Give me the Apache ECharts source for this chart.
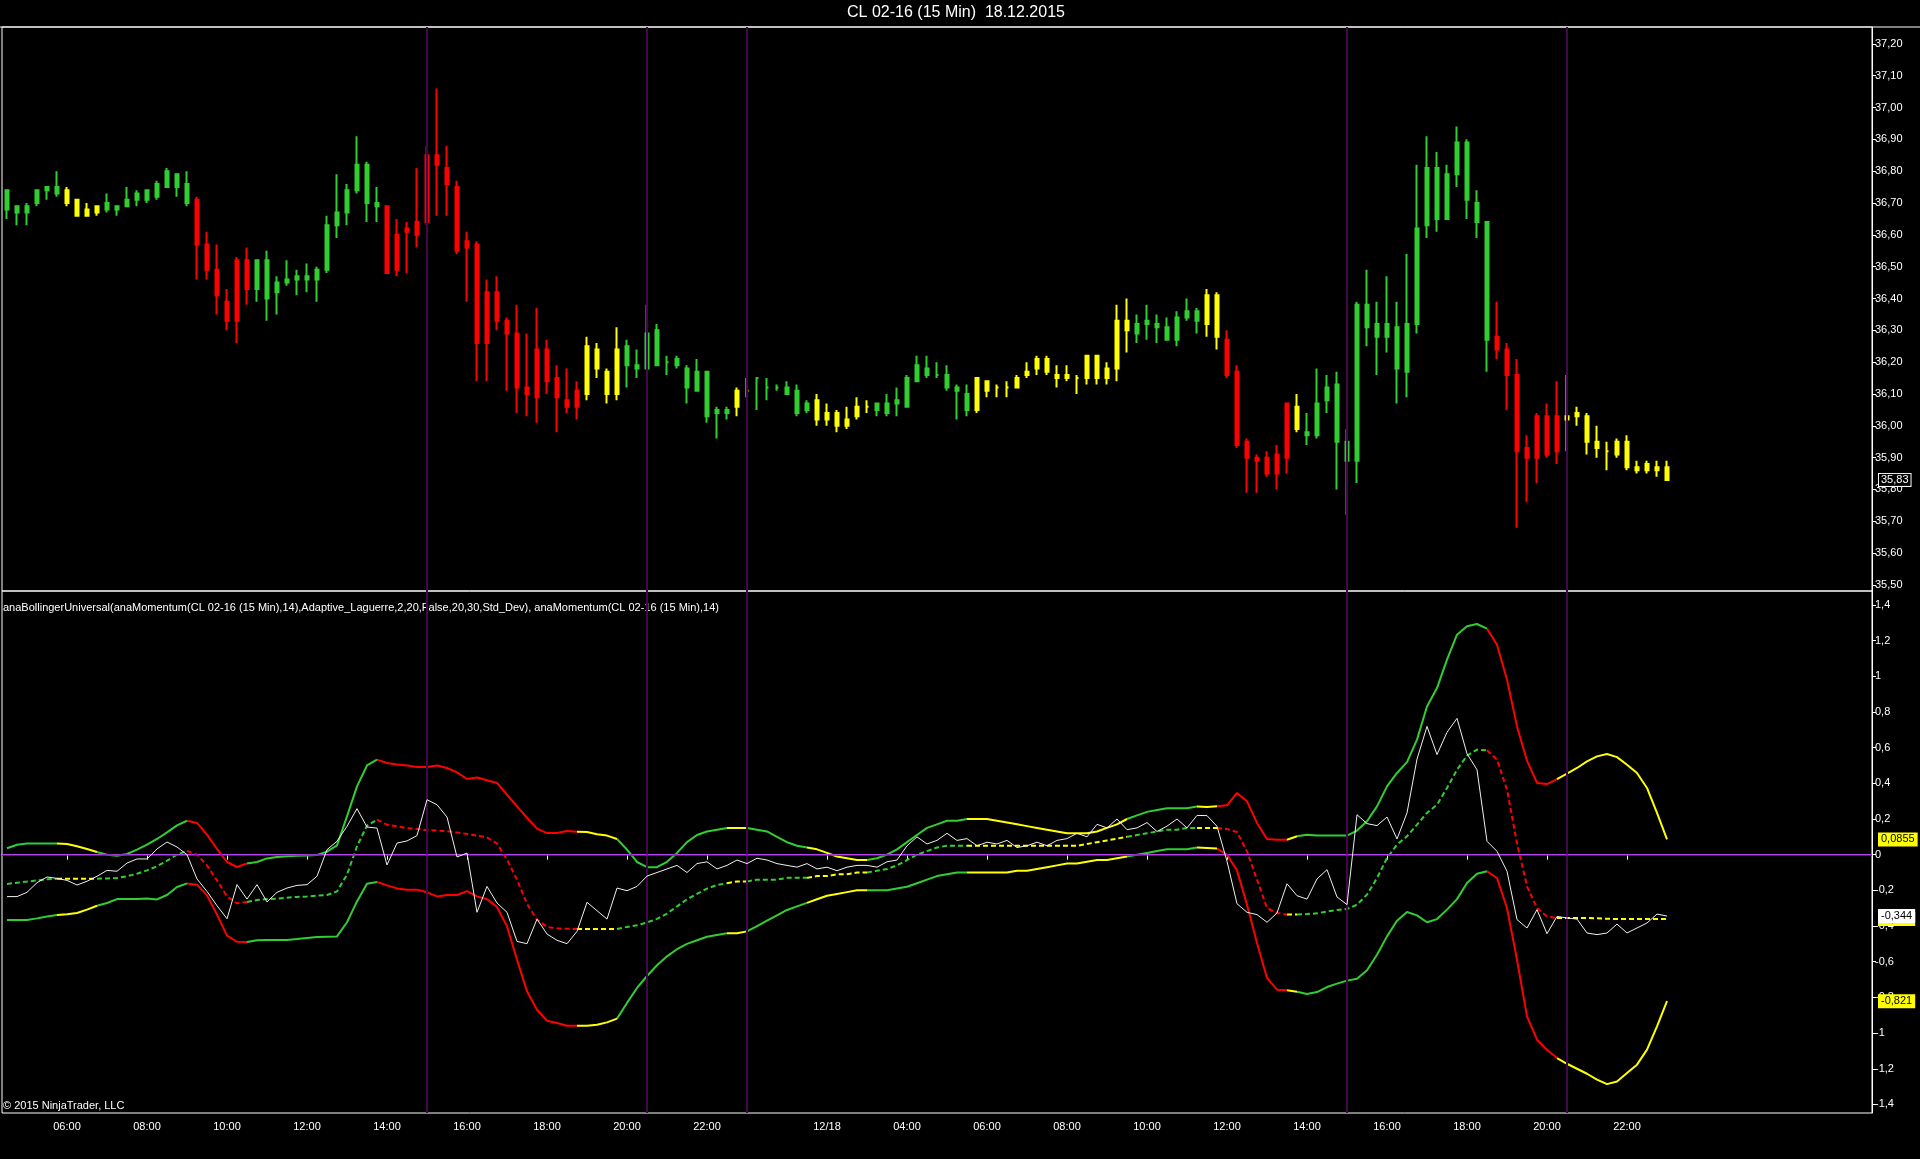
<!DOCTYPE html>
<html><head><meta charset="utf-8">
<script src="https://cdn.jsdelivr.net/npm/echarts@6/dist/echarts.min.js"></script>
<style>html,body{margin:0;padding:0;background:#000;overflow:hidden}#c{width:1920px;height:1159px}</style>
</head><body><div id="c"></div>
<script>
// ---------------- DATA ----------------
const titleText = 'CL 02-16 (15 Min)  18.12.2015';
const indicatorText = 'anaBollingerUniversal(anaMomentum(CL 02-16 (15 Min),14),Adaptive_Laguerre,2,20,False,20,30,Std_Dev), anaMomentum(CL 02-16 (15 Min),14)';
const copyrightText = '\u00A9 2015 NinjaTrader, LLC';

// trading sessions (day, first bar, last bar), 15-minute bars
const sessions = [['17', '04:30', '23:00'], ['18', '00:15', '23:00']];
const xTickLabels = {
  '17 06:00': '06:00', '17 08:00': '08:00', '17 10:00': '10:00', '17 12:00': '12:00', '17 14:00': '14:00',
  '17 16:00': '16:00', '17 18:00': '18:00', '17 20:00': '20:00', '17 22:00': '22:00',
  '18 02:00': '12/18', '18 04:00': '04:00', '18 06:00': '06:00', '18 08:00': '08:00', '18 10:00': '10:00',
  '18 12:00': '12:00', '18 14:00': '14:00', '18 16:00': '16:00', '18 18:00': '18:00', '18 20:00': '20:00', '18 22:00': '22:00'
};
const eventTimes = ['17 15:00', '17 20:30', '17 23:00', '18 15:00', '18 20:30'];

// trend state runs (G = up, R = down, Y = neutral)
const stateRuns = [['G',6],['Y',4],['G',9],['R',6],['G',13],['R',20],['Y',4],['G',11],['Y',2],['G',6],['Y',6],['G',10],['Y',16],['G',7],['Y',2],['R',7],['Y',1],['G',19],['R',7],['Y',11]];

const priceHigh = [
36.74,36.69,36.70,36.74,36.75,36.80,36.75,36.71,36.70,36.69,
36.73,36.69,36.75,36.74,36.74,36.77,36.81,36.79,36.80,36.72,
36.61,36.57,36.43,36.53,36.56,36.52,36.55,36.47,36.52,36.49,
36.51,36.50,36.66,36.79,36.76,36.91,36.83,36.75,36.69,36.65,
36.64,36.81,36.88,37.06,36.88,36.77,36.61,36.58,36.46,36.47,
36.34,36.38,36.29,36.37,36.27,36.19,36.18,36.14,36.28,36.26,
36.18,36.31,36.27,36.24,36.38,36.32,36.22,36.22,36.19,36.21,
36.17,36.06,36.06,36.12,36.15,36.15,36.15,36.13,36.14,36.13,
36.08,36.10,36.07,36.05,36.06,36.09,36.08,36.07,36.10,36.12,
36.16,36.22,36.22,36.20,36.19,36.13,36.13,36.15,36.14,36.13,
36.14,36.16,36.20,36.22,36.22,36.19,36.19,36.16,36.22,36.22,
36.20,36.38,36.40,36.35,36.38,36.35,36.34,36.36,36.40,36.37,
36.43,36.42,36.30,36.19,35.96,35.91,35.92,35.94,36.07,36.10,
36.04,36.18,36.16,36.17,35.99,36.39,36.49,36.39,36.47,36.39,
36.54,36.82,36.91,36.86,36.82,36.94,36.90,36.74,36.64,36.39,
36.26,36.21,35.97,36.04,36.07,36.14,36.16,36.06,36.04,36.00,
35.95,35.96,35.97,35.89,35.89,35.89,35.89];
const bodyTop = [
36.74,36.69,36.69,36.74,36.75,36.75,36.74,36.71,36.68,36.69,
36.70,36.69,36.71,36.73,36.74,36.76,36.80,36.79,36.76,36.71,
36.57,36.49,36.39,36.52,36.52,36.52,36.52,36.45,36.46,36.47,
36.47,36.49,36.63,36.67,36.74,36.82,36.82,36.70,36.69,36.60,
36.62,36.64,36.85,36.85,36.81,36.75,36.58,36.57,36.42,36.42,
36.33,36.29,36.12,36.24,36.24,36.15,36.08,36.11,36.25,36.24,
36.17,36.24,36.25,36.19,36.29,36.30,36.20,36.21,36.18,36.17,
36.17,36.05,36.05,36.11,36.11,36.15,36.12,36.12,36.12,36.11,
36.07,36.08,36.04,36.04,36.02,36.06,36.06,36.07,36.07,36.08,
36.15,36.19,36.18,36.16,36.16,36.12,36.10,36.15,36.14,36.12,
36.12,36.15,36.17,36.21,36.21,36.16,36.16,36.15,36.22,36.22,
36.18,36.33,36.33,36.32,36.33,36.32,36.31,36.34,36.36,36.36,
36.41,36.41,36.27,36.17,35.95,35.90,35.90,35.91,36.07,36.06,
35.98,36.07,36.12,36.13,35.95,36.38,36.38,36.32,36.32,36.31,
36.32,36.62,36.81,36.81,36.79,36.89,36.89,36.70,36.64,36.28,
36.24,36.16,35.93,36.03,36.03,36.03,36.03,36.04,36.03,35.95,
35.92,35.95,35.95,35.87,35.88,35.87,35.87];
const bodyBottom = [
36.68,36.67,36.67,36.70,36.74,36.73,36.70,36.66,36.66,36.67,
36.68,36.68,36.69,36.71,36.71,36.72,36.75,36.75,36.70,36.57,
36.49,36.41,36.33,36.33,36.43,36.43,36.40,36.42,36.45,36.46,
36.46,36.46,36.49,36.63,36.67,36.74,36.70,36.69,36.48,36.49,
36.61,36.60,36.64,36.82,36.76,36.55,36.56,36.26,36.26,36.33,
36.29,36.12,36.10,36.09,36.14,36.09,36.06,36.06,36.10,36.18,
36.10,36.10,36.19,36.18,36.18,36.19,36.20,36.19,36.12,36.11,
36.03,36.04,36.04,36.06,36.11,36.15,36.12,36.12,36.10,36.04,
36.05,36.02,36.02,36.00,36.00,36.03,36.06,36.05,36.04,36.07,
36.06,36.14,36.16,36.16,36.12,36.11,36.05,36.05,36.11,36.12,
36.12,36.12,36.16,36.18,36.17,36.15,36.15,36.15,36.15,36.15,
36.15,36.18,36.30,36.29,36.32,36.31,36.27,36.27,36.34,36.33,
36.32,36.28,36.16,35.94,35.90,35.89,35.85,35.85,35.90,35.99,
35.97,35.97,36.08,35.95,35.89,35.89,36.31,36.28,36.28,36.18,
36.17,36.32,36.63,36.65,36.65,36.79,36.71,36.64,36.27,36.24,
36.16,35.92,35.90,35.90,35.91,35.92,36.02,36.03,35.95,35.93,
35.92,35.91,35.87,35.86,35.86,35.86,35.83];
const priceLow = [
36.65,36.63,36.63,36.69,36.71,36.72,36.69,36.66,36.66,36.66,
36.67,36.66,36.69,36.69,36.70,36.71,36.75,36.72,36.69,36.46,
36.46,36.35,36.30,36.26,36.38,36.39,36.33,36.35,36.44,36.41,
36.42,36.39,36.48,36.59,36.63,36.73,36.64,36.64,36.48,36.47,
36.48,36.56,36.63,36.66,36.66,36.54,36.39,36.14,36.14,36.30,
36.11,36.04,36.03,36.01,36.10,35.98,36.04,36.02,36.08,36.15,
36.07,36.08,36.12,36.15,36.18,36.19,36.16,36.18,36.07,36.11,
36.01,35.96,36.02,36.03,36.09,36.05,36.08,36.11,36.10,36.03,
36.04,36.00,36.00,35.98,35.99,36.02,36.04,36.03,36.03,36.03,
36.06,36.14,36.15,36.15,36.11,36.02,36.03,36.04,36.09,36.09,
36.09,36.12,36.15,36.16,36.16,36.12,36.14,36.10,36.13,36.13,
36.13,36.14,36.23,36.26,36.27,36.26,36.27,36.25,36.33,36.29,
36.28,36.24,36.15,35.93,35.79,35.79,35.84,35.80,35.85,35.98,
35.94,35.96,36.04,35.80,35.72,35.82,36.25,36.16,36.23,36.07,
36.09,36.29,36.59,36.61,36.65,36.75,36.65,36.59,36.17,36.21,
36.05,35.68,35.76,35.82,35.90,35.88,35.92,36.00,35.91,35.90,
35.86,35.90,35.86,35.85,35.85,35.84,35.83];

const bandUpper = [
0.036,0.056,0.062,0.062,0.062,0.062,0.060,0.047,0.032,0.015,
0.000,-0.006,0.004,0.028,0.056,0.088,0.125,0.164,0.190,0.178,
0.112,0.032,-0.041,-0.069,-0.049,-0.041,-0.021,-0.013,-0.009,-0.006,
-0.004,-0.002,0.017,0.052,0.215,0.383,0.500,0.533,0.514,0.506,
0.500,0.491,0.491,0.500,0.486,0.461,0.424,0.433,0.417,0.402,
0.336,0.271,0.207,0.146,0.121,0.121,0.133,0.129,0.127,0.114,
0.107,0.088,0.028,-0.041,-0.07,-0.07,-0.04,0.01,0.07,0.11,
0.13,0.14,0.15,0.15,0.15,0.14,0.13,0.10,0.07,0.05,
0.04,0.03,0.01,-0.01,-0.02,-0.03,-0.03,-0.02,0.00,0.03,
0.07,0.11,0.15,0.17,0.19,0.19,0.20,0.20,0.20,0.19,
0.18,0.17,0.16,0.15,0.14,0.13,0.12,0.12,0.12,0.13,
0.15,0.17,0.20,0.22,0.24,0.25,0.26,0.26,0.26,0.27,
0.267,0.271,0.277,0.346,0.299,0.178,0.088,0.084,0.084,0.103,
0.112,0.107,0.107,0.107,0.107,0.135,0.187,0.271,0.383,0.458,
0.519,0.645,0.831,0.934,1.093,1.233,1.280,1.293,1.267,1.177,
0.981,0.719,0.527,0.402,0.396,0.424,0.454,0.486,0.523,0.551,
0.564,0.547,0.504,0.458,0.374,0.234,0.0855];
const bandMiddle = [
-0.164,-0.157,-0.151,-0.144,-0.138,-0.135,-0.135,-0.135,-0.135,-0.135,
-0.133,-0.131,-0.121,-0.107,-0.088,-0.065,-0.034,0.000,0.021,0.000,
-0.060,-0.144,-0.234,-0.273,-0.265,-0.254,-0.249,-0.247,-0.241,-0.237,
-0.234,-0.230,-0.226,-0.206,-0.112,0.047,0.163,0.196,0.168,0.159,
0.149,0.144,0.138,0.135,0.131,0.125,0.116,0.107,0.097,0.062,
-0.028,-0.140,-0.275,-0.364,-0.405,-0.413,-0.415,-0.417,-0.417,-0.417,
-0.417,-0.417,-0.405,-0.396,-0.38,-0.36,-0.33,-0.29,-0.25,-0.22,
-0.19,-0.17,-0.16,-0.15,-0.15,-0.14,-0.14,-0.14,-0.13,-0.13,
-0.13,-0.12,-0.12,-0.11,-0.11,-0.10,-0.10,-0.09,-0.08,-0.06,
-0.03,0.00,0.02,0.04,0.05,0.05,0.05,0.05,0.05,0.05,
0.05,0.05,0.05,0.05,0.05,0.05,0.05,0.05,0.06,0.07,
0.08,0.09,0.10,0.11,0.12,0.13,0.14,0.14,0.15,0.15,
0.149,0.149,0.144,0.127,0.019,-0.140,-0.299,-0.327,-0.336,-0.336,
-0.333,-0.329,-0.318,-0.310,-0.305,-0.280,-0.224,-0.131,-0.019,0.056,
0.103,0.168,0.234,0.280,0.374,0.476,0.555,0.589,0.585,0.533,
0.364,0.065,-0.178,-0.299,-0.346,-0.355,-0.355,-0.355,-0.355,-0.357,
-0.359,-0.361,-0.361,-0.361,-0.361,-0.361,-0.361];
const bandLower = [
-0.366,-0.366,-0.366,-0.357,-0.346,-0.338,-0.334,-0.327,-0.308,-0.286,
-0.271,-0.249,-0.249,-0.249,-0.245,-0.251,-0.226,-0.181,-0.161,-0.168,
-0.228,-0.336,-0.454,-0.488,-0.490,-0.480,-0.478,-0.478,-0.478,-0.473,
-0.467,-0.462,-0.460,-0.458,-0.379,-0.262,-0.163,-0.153,-0.172,-0.189,
-0.196,-0.196,-0.211,-0.234,-0.226,-0.226,-0.204,-0.234,-0.249,-0.293,
-0.402,-0.589,-0.766,-0.869,-0.931,-0.944,-0.959,-0.959,-0.959,-0.953,
-0.940,-0.919,-0.831,-0.747,-0.68,-0.62,-0.57,-0.53,-0.50,-0.48,
-0.46,-0.45,-0.44,-0.44,-0.43,-0.40,-0.37,-0.34,-0.31,-0.29,
-0.27,-0.25,-0.23,-0.22,-0.21,-0.20,-0.20,-0.20,-0.20,-0.19,
-0.18,-0.16,-0.14,-0.12,-0.11,-0.10,-0.10,-0.10,-0.10,-0.10,
-0.10,-0.09,-0.09,-0.08,-0.07,-0.06,-0.05,-0.05,-0.04,-0.03,
-0.03,-0.02,-0.01,0.00,0.01,0.02,0.03,0.03,0.03,0.04,
0.037,0.034,0.000,-0.088,-0.280,-0.495,-0.691,-0.757,-0.760,-0.768,
-0.781,-0.770,-0.742,-0.723,-0.706,-0.695,-0.648,-0.561,-0.458,-0.370,
-0.321,-0.340,-0.379,-0.361,-0.308,-0.249,-0.159,-0.107,-0.093,-0.131,
-0.299,-0.589,-0.906,-1.037,-1.093,-1.140,-1.172,-1.200,-1.228,-1.261,
-1.286,-1.271,-1.224,-1.177,-1.093,-0.962,-0.821];
const momentum = [
-0.235,-0.235,-0.211,-0.157,-0.125,-0.133,-0.144,-0.170,-0.149,-0.121,
-0.088,-0.093,-0.047,-0.024,-0.024,0.032,0.071,0.043,0.000,-0.136,
-0.206,-0.286,-0.359,-0.168,-0.249,-0.168,-0.265,-0.211,-0.187,-0.172,
-0.168,-0.121,0.028,0.075,0.159,0.258,0.155,0.149,-0.058,0.065,
0.077,0.107,0.308,0.280,0.211,-0.013,0.009,-0.323,-0.178,-0.271,
-0.323,-0.486,-0.499,-0.361,-0.445,-0.480,-0.499,-0.430,-0.267,-0.314,
-0.361,-0.187,-0.202,-0.178,-0.12,-0.10,-0.08,-0.06,-0.10,-0.05,
-0.04,-0.08,-0.06,-0.03,-0.05,-0.02,-0.03,-0.05,-0.06,-0.07,
-0.05,-0.08,-0.07,-0.09,-0.07,-0.06,-0.06,-0.07,-0.04,-0.03,
0.05,0.10,0.06,0.08,0.12,0.08,0.09,0.05,0.07,0.06,
0.08,0.04,0.05,0.07,0.05,0.08,0.09,0.12,0.10,0.17,
0.15,0.20,0.14,0.15,0.18,0.13,0.16,0.20,0.15,0.22,
0.219,0.159,-0.037,-0.275,-0.323,-0.336,-0.379,-0.327,-0.163,-0.230,
-0.249,-0.136,-0.084,-0.237,-0.280,0.224,0.174,0.163,0.211,0.088,
0.234,0.536,0.719,0.561,0.686,0.764,0.566,0.476,0.075,0.019,
-0.093,-0.364,-0.411,-0.308,-0.443,-0.346,-0.355,-0.361,-0.439,-0.448,
-0.439,-0.389,-0.439,-0.411,-0.383,-0.333,-0.344];

// ---------------- BUILD ----------------
const FONT = "'Liberation Sans', Arial, sans-serif";
const COLORS = { G: '#32CD32', R: '#FF0000', Y: '#FFFF00' };
const EVENT_COLOR = '#400a4a';
const state = [];
stateRuns.forEach(([c, n]) => { for (let k = 0; k < n; k++) state.push(c); });
const N = priceHigh.length;

const pad2 = n => String(n).padStart(2, '0');
const categories = [];
sessions.forEach(([d, s, e]) => {
  const [sh, sm] = s.split(':').map(Number), [eh, em] = e.split(':').map(Number);
  for (let t = sh * 60 + sm; t <= eh * 60 + em; t += 15) categories.push(d + ' ' + pad2(Math.floor(t / 60)) + ':' + pad2(t % 60));
});
for (let k = 0; k < 20; k++) categories.push('pad' + k); // empty space right of last bar

const candleData = priceHigh.map((h, i) => {
  const c = COLORS[state[i]];
  return { value: [bodyBottom[i], bodyTop[i], priceLow[i], h], itemStyle: { color: c, color0: c, borderColor: c, borderColor0: c } };
});

function splitByState(vals, col) {
  return vals.map((v, i) => (state[i] === col || state[i + 1] === col) ? v : '-');
}
const empty = new Array(N).fill('-');
const fmtPrice = v => Number(v).toFixed(2).replace('.', ',');
const fmtInd = v => { const r = Math.round(v * 10) / 10; return (r === 0 ? '0' : String(r)).replace('.', ','); };
const fmtLast = v => String(Number(Number(v).toPrecision(3))).replace('.', ',');
const tickShown = (idx, val) => Object.prototype.hasOwnProperty.call(xTickLabels, val);
const HIDDEN_LINE = { color: 'rgba(0,0,0,0)', width: 0 };

const series = [];
// event lines (behind everything)
[0, 1].forEach(g => {
  series.push({
    type: 'line', xAxisIndex: g, yAxisIndex: g, data: empty, z: 1, silent: true, symbol: 'none',
    markLine: {
      silent: true, symbol: 'none', animation: false, label: { show: false },
      lineStyle: { color: EVENT_COLOR, width: 2, type: 'solid' },
      data: eventTimes.map(t => ({ xAxis: t })).concat(g === 1 ? [{ yAxis: 0, lineStyle: { color: '#9B00E8', width: 1.5 } }] : [])
    }
  });
});
// candles
series.push({
  type: 'candlestick', xAxisIndex: 0, yAxisIndex: 0, data: candleData, barWidth: 3, z: 3,
  itemStyle: { borderWidth: 2 }
});
// bands
const bands = [[bandUpper, 'solid'], [bandMiddle, [5, 3]], [bandLower, 'solid']];
bands.forEach(([vals, type]) => {
  ['G', 'R', 'Y'].forEach(col => {
    series.push({
      type: 'line', xAxisIndex: 1, yAxisIndex: 1, data: splitByState(vals, col), symbol: 'none', showSymbol: false,
      connectNulls: false, silent: true, z: 4, lineStyle: { color: COLORS[col], width: 2, type: type }
    });
  });
});
// momentum
series.push({
  type: 'line', xAxisIndex: 1, yAxisIndex: 1, data: momentum, symbol: 'none', showSymbol: false, silent: true, z: 5,
  lineStyle: { color: '#f0f0f0', width: 1 }
});
// last-value boxes on the right axis
const lastBoxes = [
  [0, bodyBottom[N - 1], '#000', '#fff', '#fff', fmtPrice],
  [1, bandMiddle[N - 1], COLORS[state[N - 1]], '#000', COLORS[state[N - 1]], fmtLast],
  [1, bandUpper[N - 1], COLORS[state[N - 1]], '#000', COLORS[state[N - 1]], fmtLast],
  [1, bandLower[N - 1], COLORS[state[N - 1]], '#000', COLORS[state[N - 1]], fmtLast],
  [1, momentum[N - 1], '#fff', '#000', '#fff', fmtLast]
];
lastBoxes.forEach(([g, v, bg, fg, bc, fmt], k) => {
  series.push({
    type: 'line', xAxisIndex: g, yAxisIndex: g, data: empty, symbol: 'none', silent: true, z: 10 + k,
    markLine: {
      silent: true, symbol: 'none', animation: false, precision: 6, lineStyle: HIDDEN_LINE,
      label: { show: true, position: 'end', distance: 7, formatter: () => fmt(v), color: fg, backgroundColor: bg,
        borderColor: bc, borderWidth: 1, padding: [1, 2, 0, 2], fontSize: 11, fontFamily: FONT, opacity: 1 },
      emphasis: { disabled: true },
      data: [{ yAxis: v }]
    }
  });
});

const yAxisCommon = {
  position: 'right', scale: true,
  axisLine: { show: true, lineStyle: { color: '#fff', width: 1 } },
  axisTick: { show: true, length: 4, lineStyle: { color: '#fff' } },
  splitLine: { show: false },
  axisLabel: { color: '#fff', fontSize: 11, fontFamily: FONT, margin: 3, showMinLabel: false, showMaxLabel: false }
};

const option = {
  backgroundColor: '#000',
  animation: false,
  grid: [
    { left: 2, top: 27, width: 1870, height: 564, show: true, borderColor: '#fff', borderWidth: 1, backgroundColor: 'transparent' },
    { left: 2, top: 591, width: 1870, height: 522, show: true, borderColor: '#fff', borderWidth: 1, backgroundColor: 'transparent' }
  ],
  xAxis: [
    { type: 'category', gridIndex: 0, data: categories, boundaryGap: true,
      axisLine: { show: false }, axisTick: { show: false }, axisLabel: { show: false }, splitLine: { show: false } },
    { type: 'category', gridIndex: 1, data: categories, boundaryGap: true,
      axisLine: { show: true, lineStyle: { color: '#fff' } },
      axisTick: { show: true, alignWithLabel: true, interval: tickShown, length: 5, lineStyle: { color: '#fff' } },
      axisLabel: { show: true, interval: tickShown, formatter: v => xTickLabels[v] || '', color: '#fff', fontSize: 11, fontFamily: FONT, margin: 8 },
      splitLine: { show: false } }
  ],
  yAxis: [
    Object.assign({}, yAxisCommon, { gridIndex: 0, min: 35.481, max: 37.253, splitNumber: 18,
      axisLabel: Object.assign({}, yAxisCommon.axisLabel, { formatter: fmtPrice }) }),
    Object.assign({}, yAxisCommon, { gridIndex: 1, min: -1.448, max: 1.478, splitNumber: 15,
      axisLabel: Object.assign({}, yAxisCommon.axisLabel, { formatter: fmtInd }) })
  ],
  graphic: [
    { type: 'line', shape: { x1: 0, y1: 27, x2: 1920, y2: 27 }, style: { stroke: '#fff', lineWidth: 1 }, silent: true },
    { type: 'text', x: 956, y: 13, silent: true,
      style: { text: titleText, fill: '#fff', font: '16px ' + FONT, align: 'center', verticalAlign: 'middle', textAlign: 'center', textVerticalAlign: 'middle' } },
    { type: 'text', x: 3, y: 608, silent: true,
      style: { text: indicatorText, fill: '#fff', font: '11px ' + FONT, verticalAlign: 'middle', textVerticalAlign: 'middle' } },
    { type: 'text', x: 3, y: 1106, silent: true,
      style: { text: copyrightText, fill: '#fff', font: '11px ' + FONT, verticalAlign: 'middle', textVerticalAlign: 'middle' } }
  ],
  series: series
};

const chart = echarts.init(document.getElementById('c'), null, { renderer: 'canvas', width: 1920, height: 1159 });
chart.setOption(option);
</script>
</body></html>
